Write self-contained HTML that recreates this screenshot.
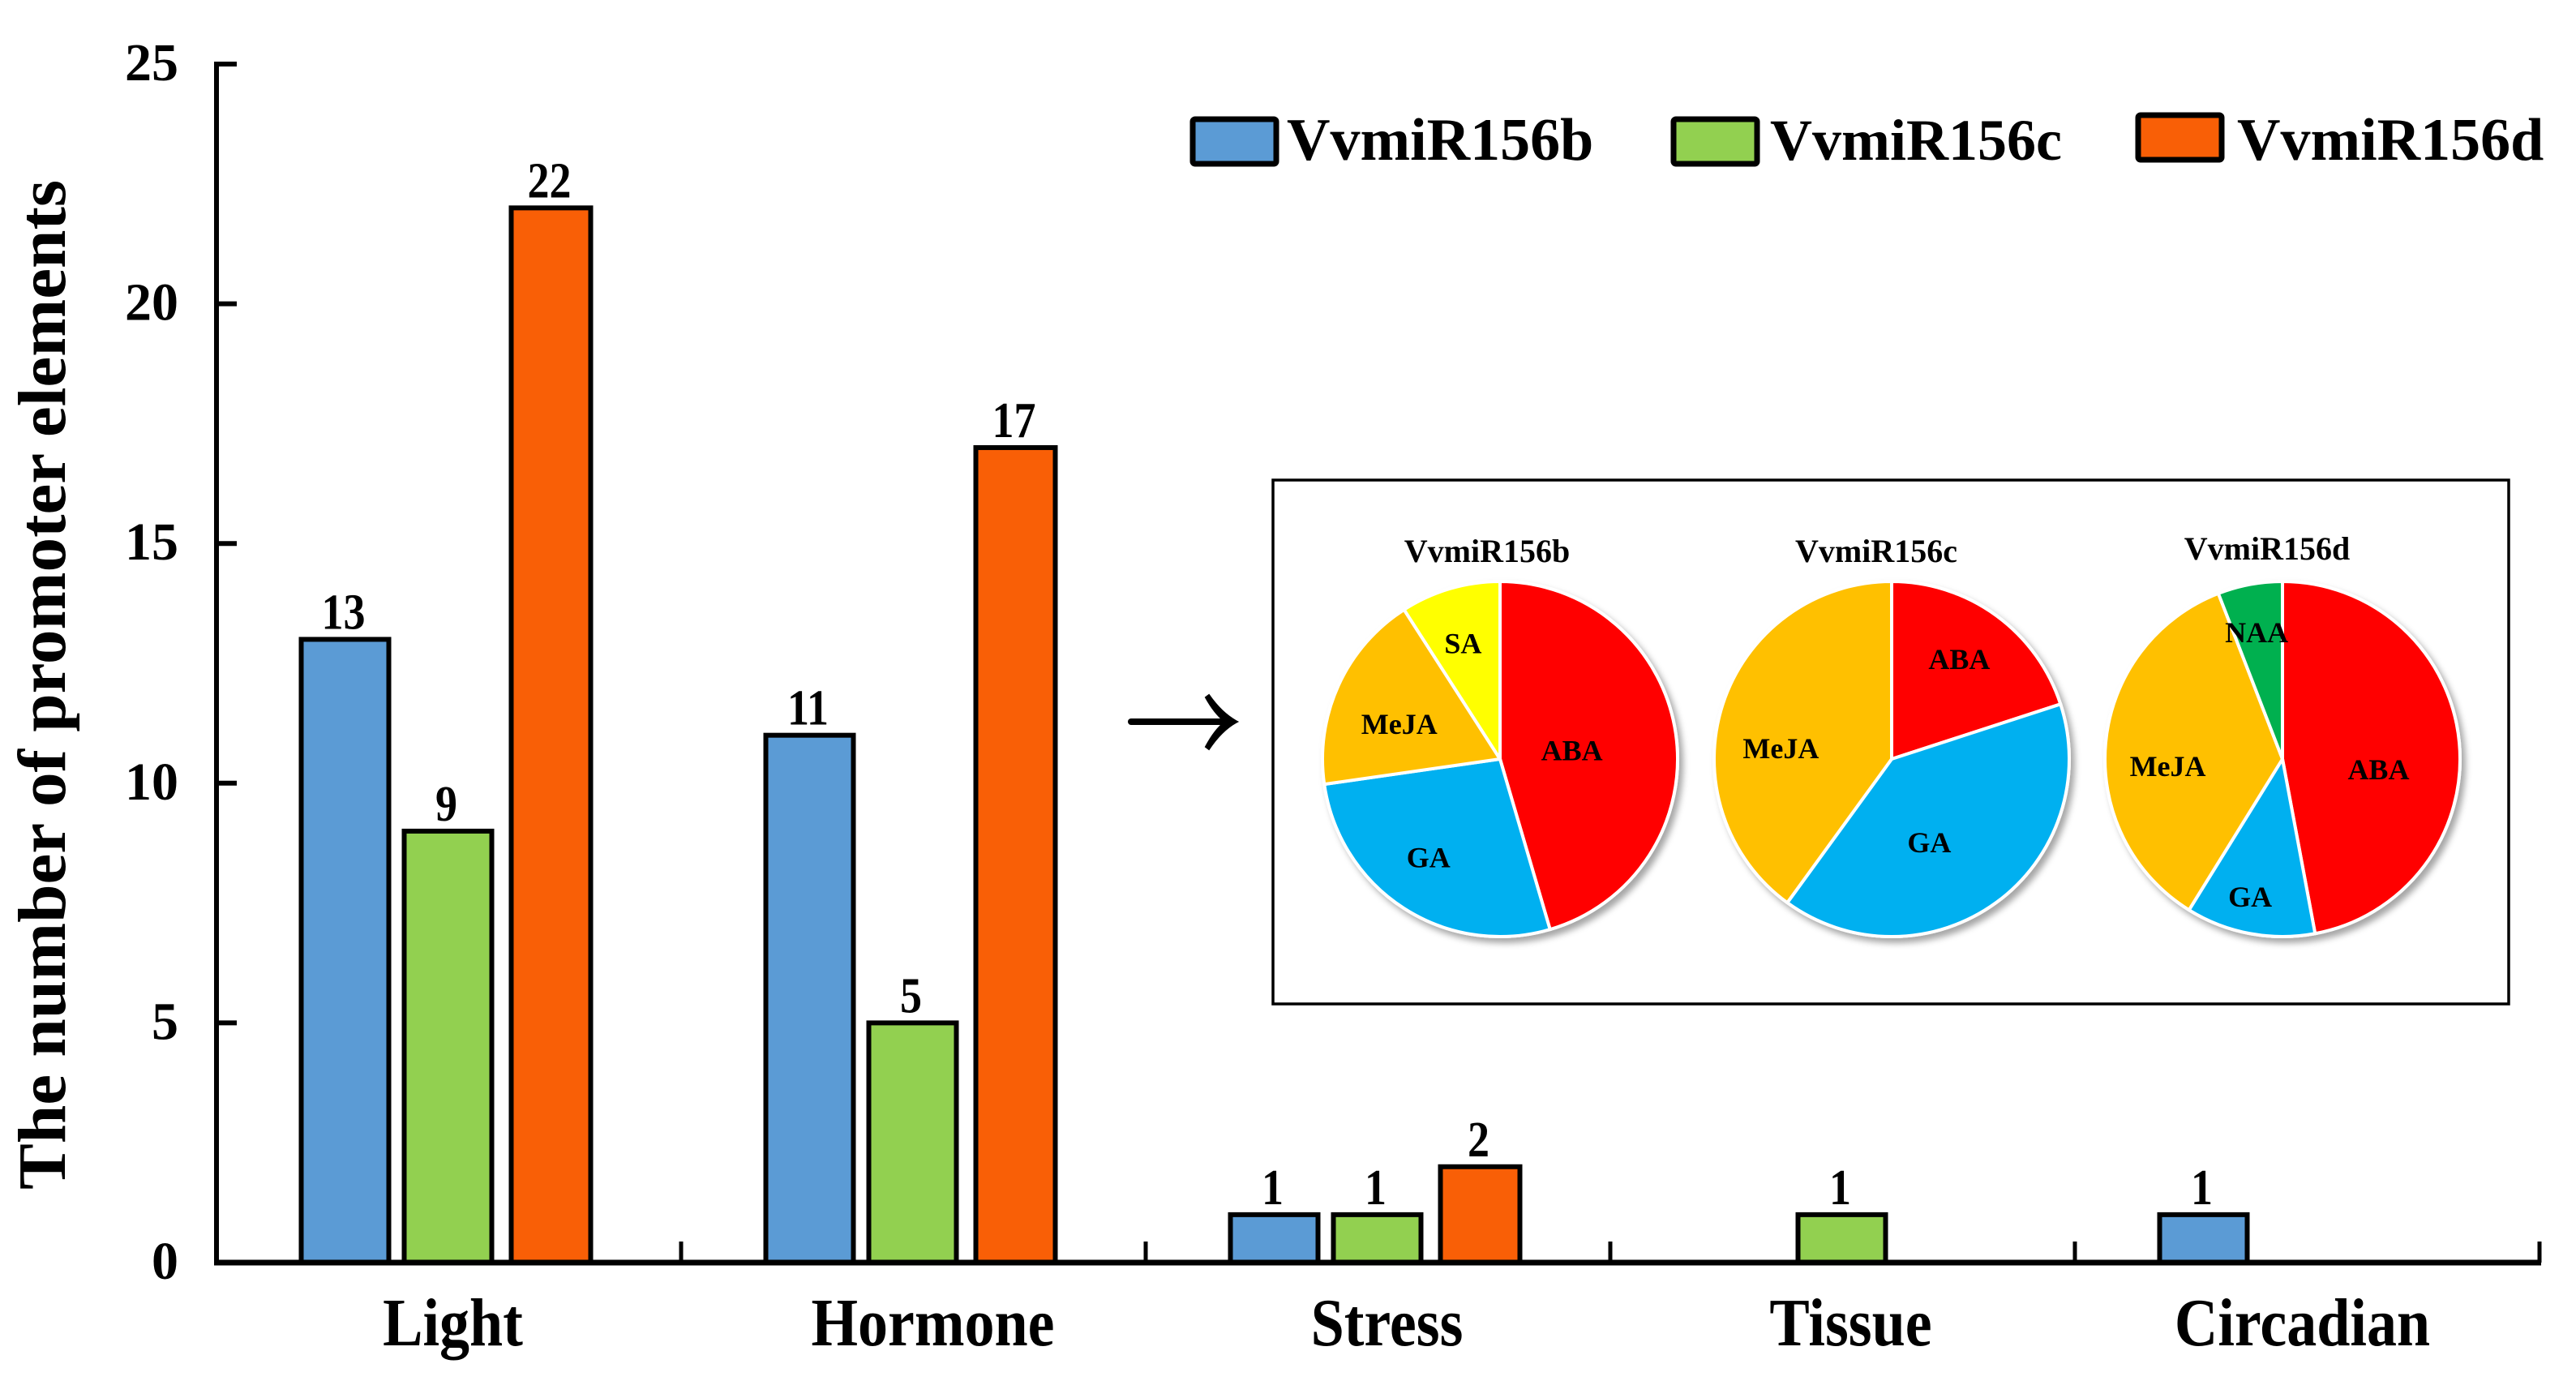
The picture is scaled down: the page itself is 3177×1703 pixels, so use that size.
<!DOCTYPE html>
<html lang="en">
<head>
<meta charset="utf-8">
<title>Promoter elements of VvmiR156 genes</title>
<style>
  html, body { margin: 0; padding: 0; background: #fff; }
  svg { display: block; }
  text { font-family: "Liberation Serif", serif; font-weight: bold; fill: #000; }
</style>
</head>
<body>
<svg id="chart" xmlns="http://www.w3.org/2000/svg" width="3177" height="1703" viewBox="0 0 3177 1703">
  <defs>
    <filter id="pie-shadow" x="-10%" y="-10%" width="125%" height="125%">
      <feDropShadow dx="5" dy="6" stdDeviation="4" flood-color="#000" flood-opacity="0.35"/>
    </filter>
  </defs>
  <rect x="0" y="0" width="3177" height="1703" fill="#fff"/>
  <text transform="translate(80,1467) rotate(-90)" font-size="84" textLength="1245" lengthAdjust="spacingAndGlyphs">The number of promoter elements</text>

  <g id="bars"></g>
  <g id="axes"></g>
  <g id="value-labels"></g>

  <g>
    <g>
      <rect x="1471" y="147" width="103" height="55" rx="3" fill="#5B9BD5" stroke="#000" stroke-width="7"/>
      <text x="1587" y="197" font-size="74">VvmiR156b</text>
    </g>
    <g>
      <rect x="2064" y="147" width="103" height="55" rx="3" fill="#92D050" stroke="#000" stroke-width="7"/>
      <text x="2183" y="197" font-size="72">VvmiR156c</text>
    </g>
    <g>
      <rect x="2637" y="142" width="103" height="55" rx="3" fill="#F95F06" stroke="#000" stroke-width="7"/>
      <text x="2759" y="197" font-size="74">VvmiR156d</text>
    </g>
  </g>

  <g>
    <line x1="1395" y1="890" x2="1516" y2="890" stroke="#000" stroke-width="8" stroke-linecap="round"/>
    <path d="M1491,857 Q1507,880 1526,890 Q1507,900 1491,924 L1487,921 Q1498,900 1511,890 Q1498,880 1487,860 Z" fill="#000" stroke="#000" stroke-width="2"/>
  </g>

  <rect x="1570" y="592" width="1524" height="646" fill="#fff" stroke="#000" stroke-width="3.5"/>
  <g id="pies"></g>
</svg>

<script>
// Bar chart data
const categories = ["Light", "Hormone", "Stress", "Tissue", "Circadian"];
const seriesNames = ["VvmiR156b", "VvmiR156c", "VvmiR156d"];
const valuesB = [13, 11, 1, 0, 1];
const valuesC = [9, 5, 1, 1, 0];
const valuesD = [22, 17, 2, 0, 0];
const yTickLabels = [0, 5, 10, 15, 20, 25];

// Pie chart data
const pieLabelsB = ["ABA", "GA", "MeJA", "SA"];
const pieValuesB = [5, 3, 2, 1];
const pieLabelsC = ["ABA", "GA", "MeJA"];
const pieValuesC = [1, 2, 2];
const pieLabelsD = ["ABA", "GA", "MeJA", "NAA"];
const pieValuesD = [8, 2, 6, 1];

const SVG_NS = "http://www.w3.org/2000/svg";

function make(parent, tag, attrs, content) {
  const el = document.createElementNS(SVG_NS, tag);
  for (const key in attrs) el.setAttribute(key, attrs[key]);
  if (content !== undefined) el.textContent = content;
  parent.appendChild(el);
  return el;
}

// Axis functions
const plotLeft = 267, plotRight = 3132, plotBottom = 1557, plotTop = 79, yMax = 25;
function yScale(v) { return plotBottom - (v / yMax) * (plotBottom - plotTop); }
function bandWidth() { return (plotRight - plotLeft) / categories.length; }
function xBand(i) { return plotLeft + (i + 0.5) * bandWidth(); }

function drawBars() {
  const barsGroup = document.getElementById("bars");
  const labelsGroup = document.getElementById("value-labels");
  const allSeries = [valuesB, valuesC, valuesD];
  const fills = ["#5B9BD5", "#92D050", "#F95F06"];
  const offsets = [-128, -1, 126];
  const widths = [108, 108, 98];
  allSeries.forEach(function (values, s) {
    values.forEach(function (v, i) {
      if (!v) return;
      const cx = xBand(i) + offsets[s];
      const bar = make(barsGroup, "rect", {
        x: cx - widths[s] / 2, y: yScale(v), width: widths[s],
        height: plotBottom - yScale(v), fill: fills[s], stroke: "#000", "stroke-width": 6
      });
      
      
      const label = make(labelsGroup, "text", {
        transform: "translate(" + (cx - 2) + "," + (yScale(v) - 13) + ") scale(1,1.15)",
        "text-anchor": "middle", "font-size": 54
      }, String(v));
      
      
    });
  });
}

function drawAxes() {
  const g = document.getElementById("axes");
  const yAxis = make(g, "line", { x1: plotLeft, y1: plotTop - 3, x2: plotLeft, y2: plotBottom + 3, stroke: "#000", "stroke-width": 6 });
  
  
  const xAxis = make(g, "line", { x1: plotLeft - 3, y1: plotBottom, x2: plotRight + 2, y2: plotBottom, stroke: "#000", "stroke-width": 7 });
  
  

  yTickLabels.forEach(function (t) {
    const tick = make(g, "line", { x1: plotLeft, y1: yScale(t), x2: plotLeft + 25, y2: yScale(t), stroke: "#000", "stroke-width": 6 });
    
    
    const label = make(g, "text", { x: 220, y: yScale(t) + 20, "text-anchor": "end", "font-size": 66 }, String(t));
    
    
  });

  categories.forEach(function (c, i) {
    const boundary = plotLeft + (i + 1) * bandWidth();
    const tick = make(g, "line", { x1: boundary, y1: plotBottom, x2: boundary, y2: plotBottom - 26, stroke: "#000", "stroke-width": 5 });
    
    
  });

  const labelNudge = [5, 24, 11, 10, -6];
  categories.forEach(function (c, i) {
    const label = make(g, "text", {
      transform: "translate(" + (xBand(i) + labelNudge[i]) + ",1659) scale(1,1.135)",
      "text-anchor": "middle", "font-size": 74
    }, c);
    
    
  });
}

function drawPie(name, title, labels, values, cx, titleX, titleY, nudges) {
  const root = document.getElementById("pies");
  const colorFor = { ABA: "#FF0000", GA: "#00B0F0", MeJA: "#FFC000", SA: "#FFFF00", NAA: "#00B050" };
  const cy = 936, r = 219, labelRadius = 130;
  const total = values.reduce(function (a, b) { return a + b; }, 0);

  const heading = make(root, "text", { x: titleX, y: titleY, "text-anchor": "middle", "font-size": 40 }, title);
  
  

  const pie = make(root, "g", { filter: "url(#pie-shadow)" });
  
  

  let angle = 0;
  const midAngles = [];
  values.forEach(function (v, i) {
    const sweep = (v / total) * 2 * Math.PI;
    const a0 = angle, a1 = angle + sweep;
    const x0 = cx + r * Math.sin(a0), y0 = cy - r * Math.cos(a0);
    const x1 = cx + r * Math.sin(a1), y1 = cy - r * Math.cos(a1);
    const large = sweep > Math.PI ? 1 : 0;
    const slice = make(pie, "path", {
      d: "M" + cx + "," + cy + " L" + x0 + "," + y0 + " A" + r + "," + r + " 0 " + large + " 1 " + x1 + "," + y1 + " Z",
      fill: colorFor[labels[i]], stroke: "#fff", "stroke-width": 4, "stroke-linejoin": "round"
    });
    
    
    midAngles.push((a0 + a1) / 2);
    angle = a1;
  });

  labels.forEach(function (l, i) {
    const lx = cx + labelRadius * Math.sin(midAngles[i]) + nudges[i][0];
    const ly = cy + 2 - labelRadius * Math.cos(midAngles[i]) + nudges[i][1];
    const text = make(root, "text", { x: lx, y: ly, "text-anchor": "middle", "dominant-baseline": "central", "font-size": 36 }, l);
    
    
  });
}

drawBars();
drawAxes();
drawPie("vvmir156b", "VvmiR156b", pieLabelsB, pieValuesB, 1850, 1834, 693, [[-40, 6], [-18, 10], [-6, 9], [-9, -20]]);
drawPie("vvmir156c", "VvmiR156c", pieLabelsC, pieValuesC, 2333, 2314, 693, [[7, -20], [-30, -4], [-13, 25]]);
drawPie("vvmir156d", "VvmiR156d", pieLabelsD, pieValuesD, 2815, 2796, 690, [[-11, 23], [-16, 40], [-12, 19], [-8, -30]]);
</script>
</body>
</html>
